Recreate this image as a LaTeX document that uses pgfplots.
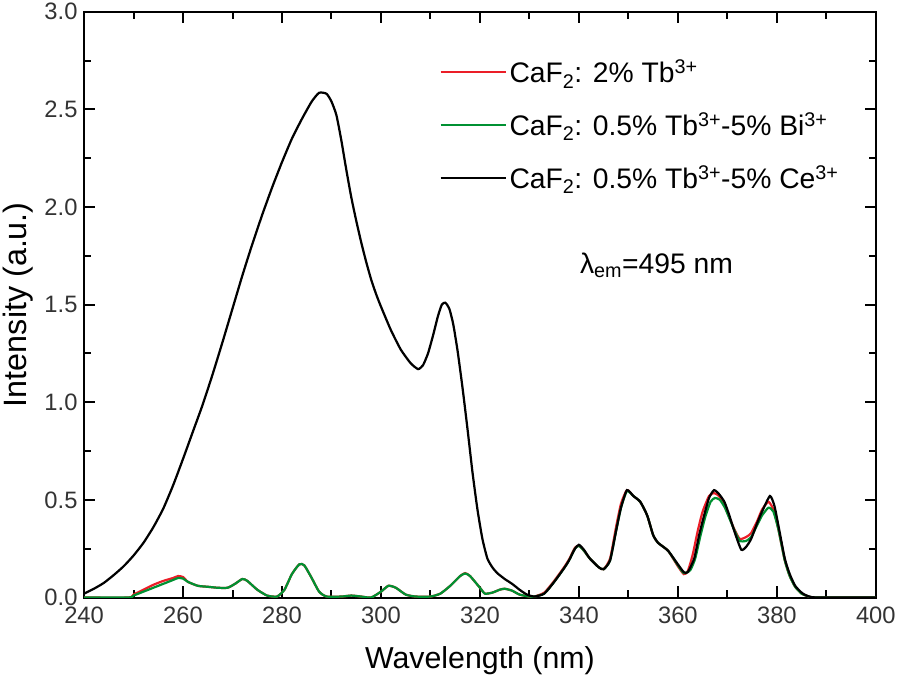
\documentclass[border=0pt]{standalone}
\usepackage{fontspec}
\setmainfont{Liberation Sans}
\usepackage{pgfplots}
\pgfplotsset{compat=1.18}
\definecolor{myred}{RGB}{235,30,40}
\definecolor{mygreen}{RGB}{0,145,50}
\begin{document}
\begin{tikzpicture}
\begin{axis}[
  scale only axis,
  width=784pt, height=580pt,
  xmin=240, xmax=400, ymin=0, ymax=3,
  xtick={240,260,...,400},
  minor xtick={250,270,...,390},
  ytick={0,0.5,...,3},
  minor ytick={0.25,0.75,...,2.75},
  tick align=inside,
  major tick length=11pt,
  minor tick length=7pt,
  every tick/.style={line width=2pt, black},
  axis line style={line width=2pt},
  /pgf/number format/assume math mode=true,
  yticklabel style={/pgf/number format/fixed, /pgf/number format/fixed zerofill, /pgf/number format/precision=1, xshift=-3pt},
  xticklabel style={/pgf/number format/fixed, /pgf/number format/precision=0, yshift=-6pt},
  ticklabel style={font=\fontsize{23.5}{27}\selectfont, text=black!80},
  xlabel={Wavelength (nm)},
  ylabel={Intensity (a.u.)},
  xlabel style={font=\fontsize{30}{34}\selectfont, yshift=-16pt},
  ylabel style={font=\fontsize{32}{36}\selectfont, yshift=4pt},
  legend style={draw=none, fill=none, at={(0.445,0.925)}, anchor=north west,
    font=\fontsize{28}{32}\selectfont, row sep=24pt,
    legend cell align=left},
  legend image code/.code={\draw[#1, line width=2.2pt] (0pt,0pt) -- (65pt,0pt);},
  every axis plot/.append style={line width=2.2pt, smooth, tension=0.35},
]
\addplot[myred] coordinates {
(240,0) (249,0) (250,0.015) (252,0.04) (254,0.065) (256,0.085) (258,0.10) (259,0.11) (260,0.105) (261,0.08) (263,0.06) (265,0.055) (267,0.05) (269,0.05) (270.5,0.07) (272,0.095) (273,0.085) (275,0.04) (277,0.01) (279,0.005) (280.5,0.04) (282,0.12) (283.5,0.17) (284.5,0.165) (286,0.10) (287.5,0.03) (289,0.005) (292,0.005) (294,0.01) (296,0.005) (298,0.0) (300,0.03) (301.5,0.06) (303,0.05) (305,0.015) (307,0.005) (310,0.005) (312,0.02) (314,0.06) (316,0.11) (317,0.125) (318,0.11) (320,0.05) (321,0.02) (322.5,0.025) (324,0.04) (325,0.045) (326.5,0.035) (328,0.015) (330,0.005) (331,0.005)
(333,0.025) (335,0.085) (337,0.155) (338,0.195) (339.2,0.255) (340,0.265) (341,0.24) (342.2,0.20) (344,0.155) (345,0.145) (346.3,0.2) (347.5,0.36) (348.5,0.48) (349.7,0.55) (351,0.52) (352.4,0.49) (353.8,0.42) (355,0.32) (356,0.28) (358,0.24) (360,0.16) (361.2,0.12) (362,0.135) (363,0.22) (364,0.34) (365,0.44) (366.3,0.52) (367.3,0.535) (368.3,0.52) (369.4,0.47) (370.4,0.41) (371.4,0.35) (372.5,0.30) (373.8,0.31) (374.8,0.33) (376,0.39) (377,0.45) (378.3,0.49) (379.3,0.45) (380.3,0.35) (381.6,0.19) (382.6,0.11) (383.7,0.055) (385,0.02) (386.5,0.005) (388,0) (400,0)
};
\addlegendentry{CaF\textsubscript{2}: 2\% Tb\textsuperscript{3+}}
\addplot[mygreen] coordinates {
(240,0) (249,0) (250,0.01) (252,0.03) (254,0.05) (256,0.07) (258,0.09) (259,0.10) (260,0.097) (261,0.08) (263,0.06) (265,0.055) (267,0.05) (269,0.05) (270.5,0.07) (272,0.095) (273,0.085) (275,0.04) (277,0.01) (279,0.005) (280.5,0.04) (282,0.12) (283.5,0.17) (284.5,0.165) (286,0.10) (287.5,0.03) (289,0.005) (292,0.005) (294,0.01) (296,0.005) (298,0.0) (300,0.03) (301.5,0.06) (303,0.05) (305,0.015) (307,0.005) (310,0.005) (312,0.02) (314,0.06) (316,0.11) (317,0.123) (318,0.11) (320,0.05) (321,0.02) (322.5,0.025) (324,0.04) (325,0.045) (326.5,0.035) (328,0.015) (330,0.005) (331,0.005)
(333,0.02) (335,0.08) (337,0.15) (338,0.19) (339.2,0.25) (340,0.265) (341,0.24) (342.2,0.20) (344,0.155) (345,0.145) (346.3,0.19) (347.5,0.34) (348.5,0.46) (349.7,0.545) (351,0.52) (352.4,0.49) (353.8,0.42) (355,0.32) (356,0.28) (358,0.24) (360,0.165) (361.2,0.125) (362.5,0.14) (363.5,0.2) (364.5,0.31) (365.5,0.41) (366.6,0.49) (367.5,0.51) (368.5,0.50) (369.5,0.46) (370.5,0.40) (371.5,0.34) (372.5,0.29) (373.8,0.29) (374.8,0.31) (376,0.37) (377,0.42) (378.3,0.46) (379.3,0.44) (380.3,0.35) (381.6,0.19) (382.6,0.11) (383.7,0.055) (385,0.02) (386.5,0.005) (388,0) (400,0)
};
\addlegendentry{CaF\textsubscript{2}: 0.5\% Tb\textsuperscript{3+}-5\% Bi\textsuperscript{3+}}
\addplot[black] coordinates {
(240,0.02) (242,0.045) (244,0.075) (246,0.115) (248,0.16) (250,0.215) (252,0.28) (254,0.36) (256,0.455) (258,0.575) (260,0.71) (262,0.85) (264,0.99) (266,1.145) (268,1.31) (270,1.48) (272,1.65) (274,1.81) (276,1.96) (278,2.10) (280,2.23) (282,2.35) (284,2.45) (286,2.54) (287.5,2.585) (289,2.58) (290,2.54) (291,2.47) (292,2.34) (293,2.19) (294,2.05) (295,1.93) (296,1.82) (297,1.72) (298,1.63) (299,1.555) (300,1.49) (302,1.37) (304,1.27) (306,1.20) (307.5,1.17) (308.5,1.19) (309.5,1.25) (310.5,1.34) (311.5,1.44) (312.3,1.50) (313,1.51) (313.8,1.48) (314.6,1.40) (315.5,1.26) (316.5,1.07) (317.5,0.86) (318.5,0.64) (319.5,0.45) (320.5,0.30) (321.5,0.20) (322.5,0.155) (323.5,0.125) (325,0.095) (326.5,0.07) (328,0.04) (329.5,0.015) (331,0.005)
(333,0.02) (335,0.08) (337,0.15) (338,0.19) (339.2,0.25) (340,0.27) (341,0.245) (342.2,0.20) (344,0.155) (345,0.145) (346.3,0.19) (347.5,0.34) (348.5,0.46) (349.7,0.55) (351,0.52) (352.4,0.49) (353.8,0.42) (355,0.32) (356,0.28) (358,0.24) (360,0.17) (361.2,0.13) (362,0.13) (363.3,0.20) (364.3,0.32) (365.3,0.42) (366.3,0.51) (367.3,0.55) (368.3,0.53) (369.4,0.49) (370.4,0.42) (371.4,0.34) (372.8,0.245) (373.8,0.26) (374.8,0.30) (376,0.38) (377,0.44) (378.6,0.52) (379.5,0.47) (380.3,0.37) (381.6,0.20) (382.6,0.12) (383.7,0.06) (385,0.025) (386,0.01) (388,0) (400,0)
};
\addlegendentry{CaF\textsubscript{2}: 0.5\% Tb\textsuperscript{3+}-5\% Ce\textsuperscript{3+}}
\node[anchor=west, font=\fontsize{28}{32}\selectfont] at (axis cs:339.5,1.70) {λ\textsubscript{em}=495 nm};
\end{axis}
\end{tikzpicture}
\end{document}
